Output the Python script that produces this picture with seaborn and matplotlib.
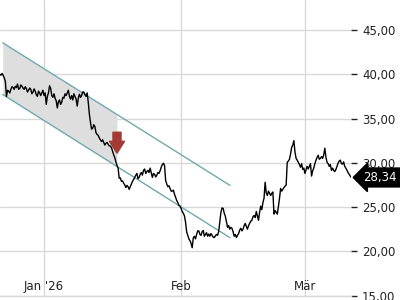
import numpy as np
import pandas as pd
import matplotlib
matplotlib.use("Agg")
import matplotlib.pyplot as plt
import matplotlib.dates as mdates
from matplotlib.ticker import FuncFormatter
import seaborn as sns

# ---- data -------------------------------------------------------------
start_time = "2025-12-22 00:00"
sample_freq = "6h"
prices = [
    40.0, 39.9, 40.1, 39.9, 39.6, 39.2, 37.5, 38.2, 38.1, 37.9,
    38.3, 38.6, 38.5, 38.3, 38.65, 38.5, 38.9, 38.3, 38.4, 38.8,
    38.65, 38.45, 38.3, 38.6, 38.4, 38.0, 38.2, 38.45, 38.3, 37.8,
    38.0, 38.35, 38.1, 37.7, 37.5, 38.1, 37.9, 37.6, 37.9, 38.2,
    37.6, 37.9, 36.6, 37.5, 37.9, 38.7, 38.4, 37.6, 37.4, 37.8,
    37.3, 37.0, 36.2, 36.9, 37.1, 36.6, 36.85, 37.4, 37.3, 37.8,
    37.6, 37.9, 38.2, 37.5, 37.2, 37.6, 37.1, 37.8, 37.5, 37.2,
    36.4, 37.3, 37.75, 37.4, 37.6, 38.0, 38.0, 37.7, 37.5, 37.9,
    36.85, 35.5, 34.6, 33.8, 33.9, 34.3, 34.1, 33.4, 33.2, 33.1,
    32.8, 32.6, 32.4, 32.6, 32.3, 32.0, 32.2, 32.3, 32.1, 31.9,
    31.9, 31.7, 31.3, 30.9, 30.6, 30.1, 29.7, 29.4, 28.25, 28.3,
    27.9, 27.95, 27.7, 27.5, 27.2, 27.45, 27.3, 27.0, 27.3, 27.6,
    27.9, 28.1, 28.35, 28.6, 28.8, 28.2, 28.35, 28.7, 28.9, 28.6,
    29.15, 29.3, 28.8, 29.0, 29.15, 28.9, 29.4, 28.9, 28.35, 28.8,
    28.7, 28.4, 28.6, 28.9, 28.8, 29.1, 29.5, 29.8, 29.95, 29.7,
    28.0, 27.6, 27.3, 27.4, 27.1, 26.8, 26.8, 26.9, 26.45, 26.1,
    25.75, 25.5, 25.2, 25.1, 24.85, 24.5, 24.3, 24.0, 23.3, 22.2,
    21.8, 21.4, 21.2, 20.9, 20.4, 21.5, 21.7, 21.4, 21.9, 22.3,
    22.3, 21.9, 21.8, 22.2, 22.35, 21.7, 21.9, 22.1, 21.7, 21.95,
    21.7, 22.0, 21.8, 21.6, 21.55, 21.75, 21.9, 21.8, 22.25, 23.3,
    24.4, 24.9, 24.85, 24.3, 23.95, 23.3, 22.7, 22.9, 22.5, 22.7,
    22.6, 22.2, 21.7, 21.9, 21.55, 21.8, 22.0, 22.4, 22.6, 22.3,
    22.5, 22.9, 23.15, 22.8, 22.5, 22.9, 23.15, 23.4, 23.5, 23.9,
    24.05, 23.8, 24.5, 24.0, 23.5, 24.4, 25.1, 24.7, 25.5, 26.0,
    27.8, 26.6, 26.3, 26.8, 26.55, 26.3, 26.55, 26.7, 24.2, 24.6,
    24.4, 24.2, 25.05, 26.0, 27.1, 26.8, 27.0, 27.2, 27.35, 27.5,
    30.05, 30.2, 30.4, 31.0, 31.75, 32.0, 32.5, 31.2, 30.5, 30.3,
    30.05, 29.8, 29.5, 29.9, 29.25, 29.4, 28.8, 29.2, 29.6, 29.3,
    29.6, 29.9, 28.5, 29.1, 29.4, 29.9, 30.3, 30.6, 30.85, 30.4,
    30.5, 30.7, 30.5, 30.9, 31.65, 30.6, 30.05, 29.9, 29.6, 29.8,
    29.15, 29.4, 29.15, 29.0, 29.25, 29.6, 29.95, 30.2, 30.3, 29.9,
    29.85, 30.1, 29.6, 29.4, 29.15, 28.9, 28.7, 28.5, 28.34,
]
last_price = 28.34

channel_dates = ["2025-12-22 16:00", "2026-02-12 01:00"]
channel_upper = [43.56, 27.45]
channel_lower = [37.72, 21.53]
shade_end = "2026-01-17 12:00"

arrow_date = "2026-01-17 12:00"
arrow_from = 33.45
arrow_to = 31.08

month_ticks = ["2026-01-01", "2026-02-01", "2026-03-01"]
month_labels = ["Jan '26", "Feb", "Mär"]
y_ticks = [15, 20, 25, 30, 35, 40, 45]
x_range = ["2025-12-22 01:00", "2026-03-11 10:00"]
y_range = [15, 48.4]

# ---- figure -----------------------------------------------------------
sns.set_theme(style="white")
plt.rcParams["font.family"] = ["DejaVu Sans"]

fig = plt.figure(figsize=(4, 3), dpi=100)
ax = fig.add_axes([0.0, 0.015, 0.8775, 0.985])

times = pd.date_range(start_time, periods=len(prices), freq=sample_freq)
df = pd.DataFrame({"t": times, "p": prices})

# channel + shading
cd = pd.to_datetime(channel_dates)
cnum = mdates.date2num(cd)
se = mdates.date2num(pd.Timestamp(shade_end))
sx = np.array([cnum[0], se])
ax.fill_between(mdates.num2date(sx),
                np.interp(sx, cnum, channel_upper),
                np.interp(sx, cnum, channel_lower),
                color="#dedede", lw=0, zorder=1)
ax.plot(cd, channel_upper, color="#6fa9ae", lw=1, zorder=2)
ax.plot(cd, channel_lower, color="#6fa9ae", lw=1, zorder=2)

sns.lineplot(data=df, x="t", y="p", ax=ax, color="black", lw=1, zorder=4)

# red arrow
ad = pd.Timestamp(arrow_date)
ax.annotate("", xy=(ad, arrow_to), xytext=(ad, arrow_from),
            arrowprops=dict(arrowstyle="simple,head_length=0.86,head_width=1.08,tail_width=0.58",
                            color="#a33a33", shrinkA=0, shrinkB=0, mutation_scale=10),
            zorder=3)

ax.set_xlim(pd.to_datetime(x_range))
ax.set_ylim(y_range)
ax.set_xticks(pd.to_datetime(month_ticks))
ax.set_xticklabels(month_labels)
ax.set_yticks(y_ticks)
ax.yaxis.set_major_formatter(FuncFormatter(lambda v, p: f"{v:.2f}".replace(".", ",")))
ax.yaxis.tick_right()
ax.set_xlabel("")
ax.set_ylabel("")

ax.grid(True, color="#d9d9d9", lw=1)
ax.set_axisbelow(True)
for s in ["top", "left", "right"]:
    ax.spines[s].set_visible(False)
ax.spines["bottom"].set_color("#d9d9d9")
ax.spines["bottom"].set_linewidth(1)

ax.tick_params(axis="y", direction="out", length=4, width=1, color="#222222",
               pad=4, labelsize=8.5, labelcolor="#222222")
ax.tick_params(axis="x", direction="out", length=2.5, width=1, color="#222222",
               pad=-13.5, labelsize=8.5, labelcolor="#222222")

# last price label
ax.annotate(f"{last_price:.2f}".replace(".", ","), xy=(1.0, last_price),
            xycoords=("axes fraction", "data"), xytext=(9, 0),
            textcoords="offset points", ha="left", va="center",
            fontsize=8.5, color="white",
            bbox=dict(boxstyle="larrow,pad=0.25", fc="black", ec="black"),
            annotation_clip=False)

fig.savefig("out.png", dpi=100)
